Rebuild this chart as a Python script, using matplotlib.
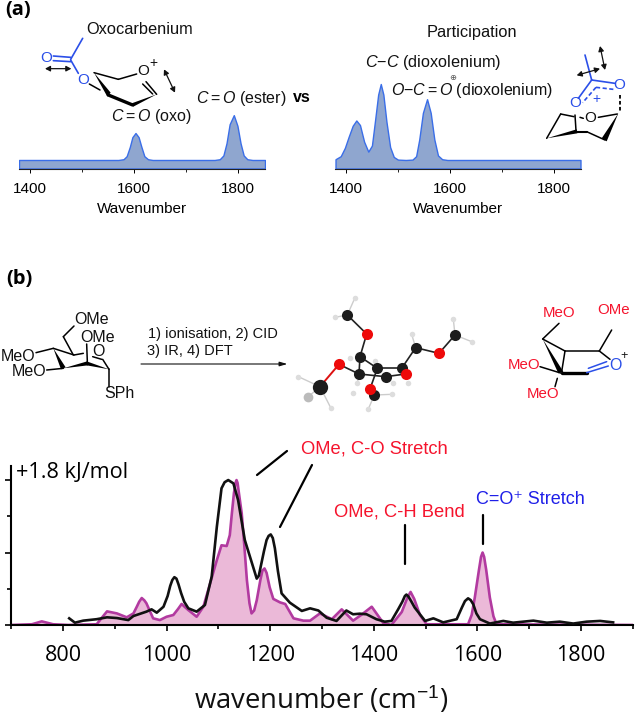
import matplotlib
matplotlib.use("Agg")
import matplotlib.pyplot as plt

W, H = 636, 717

plt.rcParams['font.family'] = ['Liberation Sans', 'DejaVu Sans']
plt.rcParams['mathtext.fontset'] = 'custom'
plt.rcParams['mathtext.rm'] = 'Liberation Sans'
plt.rcParams['mathtext.it'] = 'Liberation Sans:italic'

# panel (a), left spectrum
oxo_wn = [1379, 1570, 1580, 1586, 1592, 1597, 1603, 1609, 1614, 1620, 1627, 1636,
          1755, 1765, 1772, 1778, 1784, 1792, 1799, 1805, 1811, 1818, 1828, 1852]
oxo_int = [0, 0, .01, .05, .17, .3, .355, .3, .18, .05, .01, 0,
           0, .01, .06, .22, .47, .59, .45, .22, .06, .01, 0, 0]

# panel (a), right spectrum
part_wn = [1380, 1390, 1398, 1405, 1413, 1420, 1427, 1435, 1443, 1450, 1456, 1462, 1467,
           1472, 1478, 1485, 1492, 1500, 1515, 1528, 1535, 1541, 1548, 1556, 1563, 1570,
           1577, 1585, 1595, 1851]
part_int = [.01, .05, .16, .3, .45, .52, .46, .24, .11, .19, .52, .86, 1.0,
            .86, .5, .17, .04, .005, 0, .005, .05, .27, .62, .8, .62, .27,
            .06, .01, 0, 0]

# panel (b), computed spectrum
calc_wn = [700, 740, 759, 781, 810, 865, 875, 885, 904, 923, 936, 943, 947, 952, 957, 961, 974, 987, 1000,
           1013, 1022, 1029, 1035, 1042, 1058, 1071, 1084, 1097, 1106, 1116, 1122, 1126, 1130, 1133, 1135,
           1137, 1140, 1145, 1150, 1155, 1160, 1164, 1169, 1174, 1181, 1185, 1189, 1193, 1199, 1206, 1219, 1229, 1245,
           1264, 1277, 1296, 1319, 1338, 1360, 1376, 1396, 1418, 1434, 1454, 1465, 1471,
           1478, 1489, 1502, 1582, 1589, 1595, 1603, 1607, 1610, 1613, 1617, 1624, 1631, 1637, 1900]
calc_int = [0, .005, .025, .005, 0, .005, .05, .094, .08, .053, .08, .13, .16, .186, .17, .15, .046, .034, .057,
            .069, .11, .145, .125, .103, .057, .126, .287, .448, .55, .545, .62, .77, .91, .98, 1.0,
            .98, .9, .77, .55, .31, .15, .08, .1, .17, .31, .375, .39, .36, .26, .18, .156, .145, .046,
            .03, .03, .08, .04, .108, .03, .07, .126, .015, 0, .09, .19, .228,
            .18, .07, .005, .005, .07, .19, .38, .47, .5, .47, .38, .19, .06, .005, 0]

# panel (b), measured spectrum
exp_wn = [812, 823, 839, 865, 885, 904, 926, 936, 961, 971, 981, 994, 1002, 1007, 1011, 1015, 1019, 1023, 1028, 1034, 1042, 1058,
          1074, 1087, 1097, 1106, 1112, 1119, 1129, 1138, 1151, 1174, 1178, 1183, 1188, 1193, 1197, 1201, 1205, 1209, 1215, 1222,
          1238, 1261, 1277, 1293, 1309, 1328, 1347, 1360, 1373, 1386, 1405, 1421, 1434, 1447,
          1455, 1460, 1463, 1467, 1472, 1479, 1499, 1515, 1534, 1560, 1570, 1576, 1582, 1587, 1592, 1598, 1605, 1624, 1650, 1669, 1708,
          1734, 1759, 1785, 1811, 1837, 1862]
exp_int = [.046, .016, .03, .04, .053, .048, .034, .062, .092, .108, .085, .126, .2, .27, .31, .33, .32, .28, .22, .16, .115, .092,
           .138, .333, .678, .943, .985, 1.0, .977, .862, .586, .32, .34, .425, .51, .586, .615, .625, .6, .53, .37, .218,
           .154, .097, .115, .1, .05, .028, .1, .074, .078, .074, .04, .023, .028, .108,
           .16, .2, .21, .195, .165, .12, .028, .046, .018, .04, .12, .165, .184, .172, .143, .08, .04, .01, .028, .016, .03,
           .016, .023, .01, .023, .028, .018]

a_ticks = [1400, 1600, 1800]
a_minor = [1500, 1700]
b_ticks = [800, 1000, 1200, 1400, 1600, 1800]
b_minor = [700, 900, 1100, 1300, 1500, 1700, 1900]

BLUE = '#3a6ee8'
FILL = '#8fa6cf'
MAG = '#b23aa0'
MAGFILL = '#ebb9d8'
RED = '#f5142d'
STRUCT_BLUE = '#2b4fe8'

fig = plt.figure(figsize=(W / 100, H / 100), dpi=100)


def axes_px(left, top, right, bottom, **kw):
    return fig.add_axes([left / W, 1 - bottom / H, (right - left) / W, (bottom - top) / H], **kw)


def small_spectrum(left, right, wn, vals):
    ax = axes_px(left, 76.4, right, 168.5)
    ax.set_xlim(1379, 1852)
    ax.set_ylim(-0.112, 1.1)
    ax.fill_between(wn, -0.112, vals, facecolor=FILL, edgecolor=BLUE, linewidth=1.0, zorder=2)
    for s in ['top', 'left', 'right']:
        ax.spines[s].set_visible(False)
    ax.spines['bottom'].set_color('#222222')
    ax.spines['bottom'].set_linewidth(0.8)
    ax.set_yticks([])
    ax.set_xticks(a_ticks)
    ax.set_xticks(a_minor, minor=True)
    ax.tick_params(axis='x', which='major', length=3, width=0.7, labelsize=11, pad=6.5)
    ax.tick_params(axis='x', which='minor', length=2, width=0.6)
    ax.set_xlabel('Wavenumber', fontsize=11, labelpad=4.5)
    ax.patch.set_alpha(0)
    return ax


small_spectrum(19, 265, oxo_wn, oxo_int)
small_spectrum(335, 581, part_wn, part_int)

# main spectrum
ax = axes_px(11.2, 466, 632.8, 625)
ax.set_xlim(700, 1900)
ax.set_ylim(0, 1.097)
ax.fill_between(calc_wn, 0, calc_int, color=MAGFILL, linewidth=0, zorder=1)
ax.plot(calc_wn, calc_int, color=MAG, lw=1.9, zorder=2, solid_joinstyle='round')
ax.plot(exp_wn, exp_int, color='#111111', lw=1.9, zorder=3, solid_joinstyle='round')
for s in ['top', 'right']:
    ax.spines[s].set_visible(False)
ax.spines['left'].set_linewidth(1.5)
ax.spines['bottom'].set_linewidth(1.5)
ax.set_xticks(b_ticks)
ax.set_xticks(b_minor, minor=True)
ax.set_yticks([0, .5, 1])
ax.set_yticks([.25, .75], minor=True)
ax.set_yticklabels([])
ax.tick_params(which='major', length=4.5, width=1.2)
ax.tick_params(which='minor', length=3, width=1.2)
ax.tick_params(axis='x', which='major', labelsize=15.5, pad=10)
for lab in ax.get_xticklabels():
    lab.set_family('Open Sans')
ax.patch.set_alpha(0)

# overlay in pixel coordinates for structures and labels
ov = fig.add_axes([0, 0, 1, 1], zorder=10)
ov.set_xlim(0, W)
ov.set_ylim(H, 0)
ov.axis('off')


def bonds(segs, fx, color='black', lw=1.1, **kw):
    for (a, b, c, d) in segs:
        x0, y0 = fx(a, b)
        x1, y1 = fx(c, d)
        ov.plot([x0, x1], [y0, y1], color=color, lw=lw, solid_capstyle='round', **kw)


def wedge(fx, tip, e0, e1, color='black'):
    ov.fill(*zip(*[fx(*tip), fx(*e0), fx(*e1)]), color=color, lw=0)


def arrow(fx, a, b, style='<|-|>', lw=0.9):
    ov.annotate('', xy=fx(*b), xytext=fx(*a),
                arrowprops=dict(arrowstyle=style + ',head_width=0.16,head_length=0.3', color='#111111', lw=lw,
                                shrinkA=0, shrinkB=0))


def txt(x, y, s, size=11.5, color='#111111', ha='center', **kw):
    ov.text(x, y, s, fontsize=size, color=color, ha=ha, va='center', **kw)


# zoom-crop coordinates, 3x scale
z1 = lambda x, y: (x / 3, y / 3)
z2 = lambda x, y: (320 + x / 3, y / 3)
z3 = lambda x, y: (x / 3, 240 + y / 3)
z4 = lambda x, y: (320 + x / 3, 240 + y / 3)
z5 = lambda x, y: (240 + x / 3, 285 + y / 3)

txt(5, 10, '(a)', 14.5, 'black', ha='left', family='Open Sans', fontweight='bold')
txt(6, 279, '(b)', 14.5, 'black', ha='left', family='Open Sans', fontweight='bold')

# oxocarbenium structure
txt(140, 30, 'Oxocarbenium', 11.8)
bonds([(212, 178, 248, 115), (160, 168, 212, 172), (160, 182, 212, 185), (212, 180, 235, 220)], z1, STRUCT_BLUE, 1.2)
txt(46, 57.5, 'O', 11, STRUCT_BLUE)
txt(83, 79.5, 'O', 11, STRUCT_BLUE)
bonds([(268, 252, 300, 270), (282, 218, 355, 238), (355, 238, 410, 222), (438, 245, 470, 283), (428, 252, 458, 282)], z1)
wedge(z1, (282, 218), (322, 290), (332, 278))
bonds([(325, 285, 398, 315)], z1, lw=2.4)
wedge(z1, (470, 283), (395, 310), (400, 320))
txt(143, 71, 'O', 11)
txt(153, 63, '+', 10)
arrow(z1, (135, 206), (214, 206))
arrow(z1, (492, 208), (525, 278))
txt(151, 117, r'$\mathit{C{=}O}$ (oxo)', 11.5)
txt(241, 99, r'$\mathit{C{=}O}$ (ester)', 11.5)
txt(293, 97, 'vs', 11.5, 'black', ha='left', fontweight='bold')

# participation structure
txt(472, 32, 'Participation', 11.8)
txt(433, 63, r'$\mathit{C{-}C}$ (dioxolenium)', 11.7)
txt(472, 90, r'$\mathit{O{-}C{=}O}$ (dioxolenium)', 11.5)
txt(452.5, 78, '\u2295', 6, '#555555')
bonds([(815, 240, 795, 165), (815, 240, 775, 295), (815, 240, 885, 250)], z2, STRUCT_BLUE, 1.2)
bonds([(828, 262, 788, 308), (828, 262, 880, 268)], z2, STRUCT_BLUE, 1.2, ls=(0, (2.5, 1.5)))
txt(320 + 765 / 3, 103, 'O', 11, STRUCT_BLUE)
txt(320 + 898 / 3, 85, 'O', 11, STRUCT_BLUE)
txt(320 + 830 / 3, 99, '+', 10, STRUCT_BLUE)
arrow(z2, (770, 226), (840, 206))
arrow(z2, (840, 138), (855, 210))
bonds([(900, 285, 900, 335)], z2, lw=1.3, ls=(0, (2, 1.3)))
bonds([(680, 415, 722, 342), (722, 342, 762, 350), (765, 345, 768, 392), (790, 355, 780, 352),
       (835, 352, 892, 342), (855, 420, 800, 395)], z2)
txt(320 + 812 / 3, 118.5, 'O', 11)
wedge(z2, (680, 415), (770, 388), (772, 400))
bonds([(770, 395, 800, 395)], z2, lw=1.5)
wedge(z2, (895, 340), (845, 415), (860, 424))

# sugar in panel b
bonds([(222, 258, 190, 290), (190, 290, 220, 345), (260, 312, 262, 365), (108, 338, 160, 325),
       (160, 325, 222, 345), (222, 345, 250, 340), (140, 390, 190, 385), (278, 350, 305, 358),
       (327, 388, 308, 358), (327, 388, 327, 440)], z3)
wedge(z3, (160, 325), (183, 388), (197, 382))
wedge(z3, (190, 385), (262, 364), (264, 376))
wedge(z3, (327, 388), (260, 364), (260, 376))
txt(91.5, 320, 'OMe')
txt(98, 337, 'OMe')
txt(18, 356.5, 'MeO')
txt(29, 371, 'MeO')
txt(98, 351, 'O')
txt(119.5, 394, 'SPh')

txt(148, 334, '1) ionisation, 2) CID', 10.5, ha='left')
txt(147, 351, '3) IR, 4) DFT', 10.5, ha='left')
ov.annotate('', xy=z3(862, 372), xytext=z3(423, 372),
            arrowprops=dict(arrowstyle='-|>,head_width=0.13,head_length=0.45', color='#111111', lw=0.8,
                            shrinkA=0, shrinkB=0))

# ball and stick model
C_atoms = [(322, 90), (360, 215), (357, 267), (412, 250), (437, 275), (485, 250), (527, 188),
           (645, 150), (240, 305), (403, 330)]
O_atoms = [(380, 147), (297, 238), (597, 205), (497, 267), (390, 312)]
H_atoms = [(345, 38), (285, 97), (175, 275), (205, 335), (272, 368), (515, 148), (640, 103), (695, 170),
           (338, 325), (330, 218), (352, 295), (405, 228), (458, 295), (505, 295), (455, 328), (385, 372)]
ball_bonds = [(322, 90, 380, 147), (380, 147, 360, 215), (360, 215, 357, 267), (360, 215, 412, 250),
              (357, 267, 437, 275), (412, 250, 485, 250), (485, 250, 497, 267), (437, 275, 497, 267),
              (485, 250, 527, 188), (527, 188, 597, 205), (597, 205, 645, 150), (357, 267, 297, 238),
              (412, 250, 390, 312), (390, 312, 403, 330)]
red_bonds = [(297, 238, 240, 305)]
h_bonds = [(322, 90, 345, 38), (322, 90, 285, 97), (240, 305, 175, 275), (240, 305, 205, 335),
           (240, 305, 272, 368), (527, 188, 515, 148), (645, 150, 640, 103), (645, 150, 695, 170),
           (357, 267, 352, 295), (403, 330, 455, 328), (403, 330, 385, 372)]
bonds(h_bonds, z5, '#cccccc', 1.0)
bonds(ball_bonds, z5, '#222222', 1.2)
bonds(red_bonds, z5, '#dd1111', 1.4)
for p in H_atoms:
    ov.plot(*z5(*p), 'o', ms=4 if p != (205, 335) else 7, color='#dddddd' if p != (205, 335) else '#bbbbbb', mew=0)
for p in C_atoms:
    ov.plot(*z5(*p), 'o', ms=8 if p != (240, 305) else 11, color='#1c1c1c', mew=0)
for p in O_atoms:
    ov.plot(*z5(*p), 'o', ms=8, color='#ee0a0a', mew=0)

# red and blue cation in panel b
bonds([(717, 250, 668, 297), (668, 297, 735, 333), (735, 333, 838, 333), (838, 333, 875, 270),
       (838, 333, 870, 358), (735, 333, 725, 395), (660, 380, 725, 400), (712, 415, 705, 440)], z4)
wedge(z4, (668, 297), (715, 400), (730, 395))
bonds([(725, 400, 800, 400)], z4, lw=2.4)
bonds([(805, 385, 860, 365), (800, 398, 865, 378)], z4, STRUCT_BLUE, 1.1)
txt(320 + 717 / 3, 313, 'MeO', 10.8, RED)
txt(320 + 882 / 3, 309.5, 'OMe', 10.8, RED)
txt(320 + 612 / 3, 365, 'MeO', 10.8, RED)
txt(320 + 670 / 3, 394.5, 'MeO', 10.8, RED)
txt(320 + 885 / 3, 365, 'O', 11.5, STRUCT_BLUE)
txt(320 + 912 / 3, 355.5, '+', 9)

# spectrum labels and leader lines
txt(16, 473, '+1.8 kJ/mol', 15.6, 'black', ha='left', family='Open Sans')
txt(374, 449, 'OMe, C-O Stretch', 13.2, RED)
txt(399, 512, 'OMe, C-H Bend', 13.2, RED)
txt(476, 500, 'C=O\u207a Stretch', 13, '#1f1fe8', ha='left')
leaders = [(257, 475, 287, 451), (280, 527, 312, 465), (404.5, 525, 404.5, 564), (483, 515, 483, 544)]
bonds(leaders, lambda x, y: (x, y), 'black', 1.6)
txt(321, 700, 'wavenumber (cm$^{-1}$)', 19.8, '#111111', family='Open Sans')

fig.savefig('out.png', dpi=100)
